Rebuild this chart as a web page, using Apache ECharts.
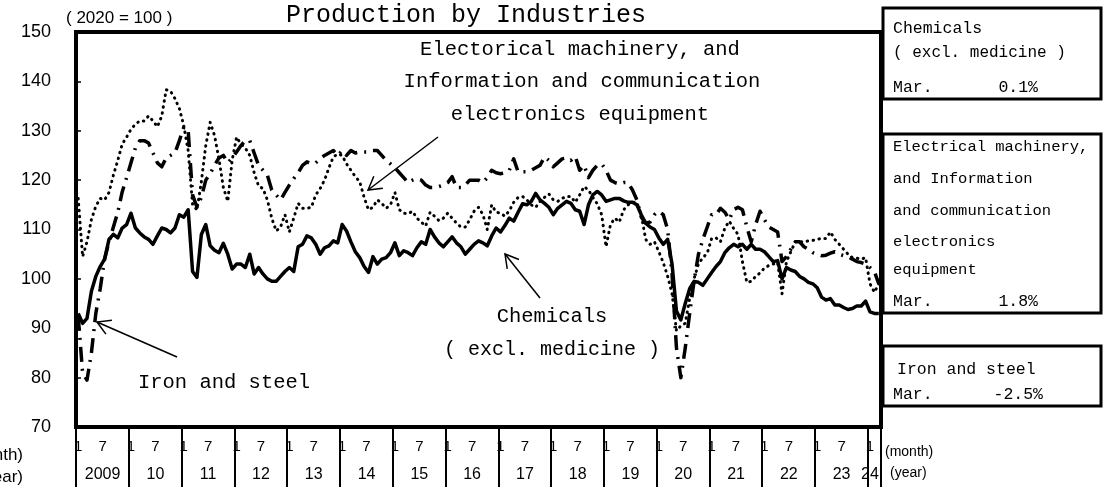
<!DOCTYPE html>
<html><head><meta charset="utf-8">
<script src="https://cdn.jsdelivr.net/npm/echarts@6/dist/echarts.min.js"></script>
<style>html,body{margin:0;padding:0;background:#fff}#c{width:1111px;height:494px}</style>
</head><body><div id="c"></div>
<script>
// ---- data (index 2020 = 100), monthly Jan 2009 .. Mar 2024 ----
const chemicals = [
  93, 91, 92, 97.5, 100.5, 102.5, 104, 108, 109, 108.3, 110.3, 111,
  113.3, 110.3, 109.3, 108.5, 108, 107, 108.7, 110.3, 110, 109.3, 110.3, 113,
  112.5, 114, 101.5, 100.3, 109, 111, 106.7, 105.8, 105.3, 107.2, 105, 102,
  103, 103, 102.3, 105, 101, 102.3, 101, 100, 99.5, 99.5, 100.5, 101.5,
  102.3, 101.5, 106.5, 107, 108.7, 108.3, 107, 105, 106.3, 106.7, 107.7, 107.3,
  111, 109.7, 107.5, 105.5, 104.3, 102.5, 101.3, 104.5, 103, 104, 104.3, 105.3,
  107.3, 104.7, 105.7, 105.3, 104.7, 106.3, 107.5, 107, 110, 108.5, 107.3, 106.5,
  107.5, 108.5, 107.3, 106.5, 105, 106, 107, 107.7, 107.3, 106.7, 108.7, 110.3,
  109.5, 110.8, 112.3, 111.7, 113.5, 115.2, 115, 115.7, 117.3, 116, 115.3, 114.5,
  113, 114.3, 115, 115.7, 115.3, 114, 113.7, 111, 115, 117, 117.7, 117,
  115.7, 116, 116.3, 116.3, 115.8, 115.5, 115.5, 115, 113, 111.3, 110.5, 110,
  108.3, 107, 108, 103, 93.5, 91.7, 95, 98, 99.5, 99.3, 98.7, 100,
  101.3, 102.5, 103.5, 105.3, 106.3, 107, 106.5, 107, 106, 107, 106, 106,
  105.5, 104.5, 103.5, 103.7, 100, 102.3, 101.8, 101.5, 100.5, 100, 99.3, 99,
  98.2, 96.3, 95.7, 96, 94.7, 94.7, 94.2, 93.8, 94, 94.5, 94.5, 95.5,
  93.3, 93, 93
];
const electrical = [
  116.3, 104.5, 107.5, 112, 114.7, 116.3, 116, 117.5, 121, 124, 127.3, 128.7,
  130.3, 131.3, 132, 132, 133, 132, 130.8, 133, 138.3, 138, 136.5, 134.5,
  131, 126, 115, 114, 119.7, 127, 131.7, 129, 124.3, 118.5, 115.7, 124,
  128.7, 127.3, 126.5, 125, 121.5, 118.8, 118.3, 116, 112.3, 109.7, 110.5, 113,
  109.5, 112.3, 115.3, 114.3, 114.3, 114.5, 117, 118.3, 120, 122.5, 124.7, 125.3,
  125, 123.3, 122, 120.7, 119.7, 116.5, 114, 114.5, 116, 115.3, 114.3, 115,
  117.5, 114, 113.3, 113.2, 113.7, 112.3, 111.5, 110.7, 113.5, 112.7, 111.8, 112.3,
  113.3, 112.3, 111.3, 110.5, 110.5, 112, 113.7, 114.5, 113, 110, 115, 113.5,
  113.3, 112.7, 113.8, 115.5, 116.5, 116.7, 116, 115, 114.5, 115.7, 116.5, 117.2,
  116, 115.7, 116.3, 116.7, 116.7, 115.5, 117, 118.7, 118, 116.5, 115.2, 113,
  106.5, 111, 112.3, 111.5, 114, 115, 115.5, 115.5, 113, 108, 107, 107.5,
  105.5, 103.3, 100.5, 97, 89.5, 90.5, 91, 96, 100, 103, 104.3, 105.2,
  108.2, 108.3, 107.5, 110.3, 111.7, 110.2, 109, 103.5, 99.3, 99.5, 100.5, 101.2,
  102.2, 102.7, 103, 103.3, 97, 103.5, 105.5, 107.5, 107.5, 107.5, 107.7, 107.8,
  108, 108.2, 108.2, 109.5, 108, 107, 106, 105, 104.3, 104.2, 104, 104.3,
  99, 97.3, 99
];
const ironSteel = [
  92.5, 81, 79.5, 85, 93, 98, 104, 107.5, 110.5, 113.5, 117.6, 120.5,
  123.5, 126.5, 128, 128, 127.5, 125.5, 123.5, 122.7, 124.5, 125, 125.5, 128,
  130.7, 130, 117, 114.5, 116.5, 120, 121.3, 123, 124.5, 125, 123.5, 124.5,
  125.7, 127, 128, 128, 125.5, 123, 122, 121, 118, 117, 116, 117.5,
  119, 120.3, 121.5, 123, 123.7, 123.3, 123.5, 124.3, 125, 125.5, 126, 125,
  126, 125, 126, 125.5, 125.7, 125.7, 125.7, 126, 126, 125, 124, 123.3,
  122.5, 121.5, 120.5, 119.5, 120, 120.3, 120, 119, 118.5, 118.5, 118.7, 119,
  119.5, 120.7, 118.5, 118.5, 119, 120, 120, 120, 119.5, 120.5, 122, 121.5,
  121.3, 121.5, 122, 124.3, 121.7, 121.7, 121.7, 122, 122.5, 123, 124.7, 124,
  122.7, 123.5, 124.3, 124.5, 124, 124.8, 122, 123, 120.5, 122, 123, 123.3,
  122, 120, 119.5, 119.2, 119.5, 119.5, 118, 116, 112.5, 111.3, 111.5, 113,
  113.7, 113, 110, 101, 86, 80, 86, 93, 99.5, 105, 108, 110.5,
  113, 113, 114.3, 113.5, 112, 114, 114.5, 114, 110.5, 107.5, 111, 113.7,
  112, 110.5, 110, 109.5, 103.5, 104.5, 106, 107.5, 107.5, 106.5, 106, 105.3,
  105, 104.7, 104.8, 105.2, 105.5, 105, 104.7, 104.5, 104, 103.5, 103.3, 103,
  102.3, 101.5, 99
];
const startYear = 2009;
const yMin = 70, yMax = 150, yStep = 10;
const marChanges = ['0.1%', '1.8%', '-2.5%'];

// categories (year-month)
const categories = [];
for (let i = 0; i < chemicals.length; i++) {
  categories.push((startYear + Math.floor(i / 12)) + '-' + (i % 12 + 1));
}
const lastIdx = categories.length - 1;
const lastYearStart = Math.floor(lastIdx / 12) * 12;

const MONO = '"Liberation Mono", "DejaVu Sans Mono", monospace';
const SANS = '"Liberation Sans", Arial, sans-serif';

function arrow(tail, tip) {
  const dx = tail[0] - tip[0], dy = tail[1] - tip[1];
  const len = Math.hypot(dx, dy), ux = dx / len, uy = dy / len;
  const a = Math.PI / 6, L = 15;
  const w = s => [tip[0] + L * (ux * Math.cos(s * a) - uy * Math.sin(s * a)),
                  tip[1] + L * (ux * Math.sin(s * a) + uy * Math.cos(s * a))];
  const st = { stroke: '#000', lineWidth: 1.5, fill: null };
  return [
    { type: 'line', shape: { x1: tail[0], y1: tail[1], x2: tip[0], y2: tip[1] }, style: st },
    { type: 'polyline', shape: { points: [w(1), tip, w(-1)] }, style: st }
  ];
}
function txt(text, x, y, font, align) {
  return { type: 'text', x: x, y: y, style: { text: text, font: font, fill: '#000',
    textAlign: align || 'left', textVerticalAlign: 'middle' } };
}
function box(x, y, w, h) {
  return { type: 'rect', shape: { x: x, y: y, width: w, height: h },
    style: { stroke: '#000', lineWidth: 3, fill: '#fff' } };
}

const graphics = [
  txt('Production by Industries', 466, 15, '25px ' + MONO, 'center'),
  txt('( 2020 = 100 )', 66, 18, '17px ' + SANS),
  txt('Electorical machinery, and', 580, 50, '20.5px ' + MONO, 'center'),
  txt('Information and communication', 582, 82, '20.5px ' + MONO, 'center'),
  txt('electronics equipment', 580, 115, '20.5px ' + MONO, 'center'),
  txt('Chemicals', 552, 317, '20.5px ' + MONO, 'center'),
  txt('( excl. medicine )', 552, 350, '20px ' + MONO, 'center'),
  txt('Iron and steel', 224, 383, '20.5px ' + MONO, 'center'),
  ...arrow([438, 137], [368, 190]),
  ...arrow([540, 298], [505, 254]),
  ...arrow([177, 357], [97, 322]),
  // right boxes
  box(883, 8, 218, 91),
  txt('Chemicals', 893, 29, '16.5px ' + MONO),
  txt('( excl. medicine )', 893, 53, '16px ' + MONO),
  txt('Mar.', 893, 88, '16.5px ' + MONO),
  txt(marChanges[0], 1038, 88, '16.5px ' + MONO, 'right'),
  box(883, 134, 218, 179),
  txt('Electrical machinery,', 893, 147, '15.5px ' + MONO),
  txt('and Information', 893, 179, '15.5px ' + MONO),
  txt('and communication', 893, 211, '15.5px ' + MONO),
  txt('electronics', 893, 242, '15.5px ' + MONO),
  txt('equipment', 893, 270, '15.5px ' + MONO),
  txt('Mar.', 893, 302, '16.5px ' + MONO),
  txt(marChanges[1], 1038, 302, '16.5px ' + MONO, 'right'),
  box(883, 346, 218, 60),
  txt('Iron and steel', 897, 370, '16.5px ' + MONO),
  txt('Mar.', 893, 395, '16.5px ' + MONO),
  txt(marChanges[2], 1043, 395, '16.5px ' + MONO, 'right'),
  // axis unit captions
  txt('(month)', 885, 452, '14px ' + SANS),
  txt('(year)', 890, 473, '14px ' + SANS),
  txt('(month)', 23, 455, '17px ' + SANS, 'right'),
  txt('(year)', 23, 477, '17px ' + SANS, 'right')
];

const chart = echarts.init(document.getElementById('c'), null, { renderer: 'canvas' });
chart.setOption({
  animation: false,
  backgroundColor: '#fff',
  grid: { left: 76, top: 32, width: 805, height: 395, show: true,
          borderColor: '#000', borderWidth: 4, backgroundColor: 'transparent' },
  xAxis: [
    { type: 'category', data: categories, boundaryGap: true, position: 'bottom',
      axisLine: { show: true, lineStyle: { color: '#000', width: 4 } },
      axisTick: { show: false }, splitLine: { show: false },
      axisLabel: {
        interval: (i) => i % 12 === 0 || i % 12 === 6 || i === lastIdx,
        margin: 12, color: '#000', fontFamily: 'Liberation Sans', fontSize: 15,
        formatter: (v, i) => {
          const m = +v.split('-')[1];
          if (i === lastIdx) return '{s|' + m + '}';
          if (m === 7) return '{t|7}';
          return String(m);
        },
        rich: { s: { padding: [0, 8, 0, 0], fontSize: 15, fontFamily: 'Liberation Sans', color: '#000' },
                t: { padding: [0, 4, 0, 0], fontSize: 15, fontFamily: 'Liberation Sans', color: '#000' } }
      } },
    { type: 'category', data: categories, boundaryGap: true, position: 'bottom',
      axisLine: { show: false },
      axisTick: { show: true, interval: (i) => i % 12 === 0, length: 60,
                  lineStyle: { color: '#000', width: 2 } },
      splitLine: { show: false },
      axisLabel: {
        interval: (i) => i % 12 === 6 || i === lastYearStart,
        margin: 40, color: '#000', fontFamily: 'Liberation Sans', fontSize: 16,
        formatter: (v, i) => {
          const y = v.split('-')[0];
          const lab = (y == String(startYear)) ? y : y.slice(2);
          return i === lastYearStart ? lab : '{y|' + lab + '}';
        },
        rich: { y: { padding: [0, 4, 0, 0], fontSize: 16, fontFamily: 'Liberation Sans', color: '#000' } }
      } }
  ],
  yAxis: {
    type: 'value', min: yMin, max: yMax, interval: yStep,
    axisLine: { show: true, lineStyle: { color: '#000', width: 4 } },
    axisTick: { show: true, inside: true, length: 5, lineStyle: { color: '#000', width: 1.5 } },
    splitLine: { show: false },
    axisLabel: { margin: 25, color: '#000', fontFamily: 'Liberation Sans', fontSize: 18 }
  },
  series: [
    { name: 'Chemicals (excl. medicine)', type: 'line', data: chemicals, xAxisIndex: 0,
      symbol: 'none', lineStyle: { color: '#000', width: 3.5, join: 'round' }, z: 3 },
    { name: 'Electrical machinery', type: 'line', data: electrical, xAxisIndex: 0,
      symbol: 'none', lineStyle: { color: '#000', width: 3, type: [0.5, 5.5], cap: 'round', join: 'round' }, z: 3 },
    { name: 'Iron and steel', type: 'line', data: ironSteel, xAxisIndex: 0,
      symbol: 'none', lineStyle: { color: '#000', width: 3.5, type: [15, 7, 2, 7], cap: 'butt', join: 'round' }, z: 3 }
  ],
  graphic: graphics
});
</script>
</body></html>
